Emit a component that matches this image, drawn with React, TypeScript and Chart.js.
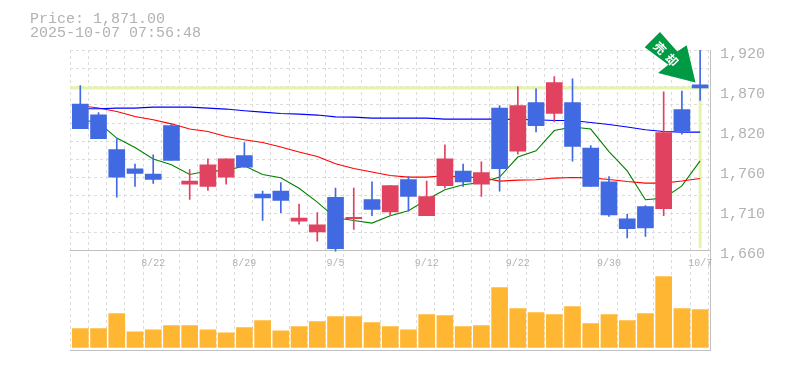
import React, { useEffect, useRef } from "react";
import { Chart, registerables } from "chart.js";

Chart.register(...registerables);

const dates = ["8/18","8/19","8/20","8/21","8/22","8/25","8/26","8/27","8/28","8/29","9/1","9/2","9/3","9/4","9/5","9/8","9/9","9/10","9/11","9/12","9/16","9/17","9/18","9/19","9/22","9/24","9/25","9/26","9/29","9/30","10/1","10/2","10/3","10/6","10/7"];
const labelledIndexes = [4, 9, 14, 19, 24, 29, 34];
const highs = [1874,1839,1805,1772,1784,1824,1765,1779,1779,1800,1737,1748,1720,1709,1741,1741,1749,1744,1756,1750,1797,1772,1775,1848,1873,1870,1886,1883,1796,1756,1707,1718,1866,1867,1920];
const bodyTops = [1850,1836,1791,1766,1759,1822,1750,1771,1779,1783,1733,1737,1702,1693,1729,1703,1726,1744,1752,1730,1779,1763,1761,1845,1848,1852,1878,1852,1793,1749,1701,1717,1813,1843,1875];
const bodyBottoms = [1818,1805,1755,1760,1752,1777,1746,1743,1755,1768,1728,1725,1698,1684,1662,1701,1713,1710,1730,1705,1744,1749,1746,1766,1789,1822,1838,1795,1743,1706,1688,1689,1714,1815,1871];
const lows = [1818,1805,1729,1743,1747,1777,1726,1738,1746,1768,1699,1709,1694,1672,1659,1687,1705,1705,1711,1705,1741,1743,1730,1737,1785,1814,1827,1776,1743,1704,1676,1678,1705,1811,1855];
const rising = [0,0,0,0,0,0,1,1,1,0,0,0,1,1,0,1,0,1,0,1,1,0,1,0,1,0,1,0,0,0,0,0,1,0,0];
const maLong = [1844,1844,1844.9,1844.9,1846.2,1846.2,1846.2,1844.9,1843.6,1841.4,1839.7,1837.8,1837.1,1835.8,1833.5,1833.2,1831.9,1831.9,1831.9,1831.9,1830.6,1830.6,1830.6,1830.6,1830,1829.7,1828.7,1828.7,1826.1,1823.5,1820.2,1816.7,1814.4,1813.7,1813.7];
const maMid = [1847.9,1844.9,1840.4,1834,1829.7,1824.4,1817.6,1814.4,1808,1803.7,1800.1,1794.2,1787.7,1782,1772.5,1766.3,1761.7,1757.2,1755.2,1755.2,1756.9,1755.2,1754.6,1750,1751.3,1751.7,1753.9,1754.6,1754.2,1752,1749.4,1747.4,1747.4,1750,1753.3];
const maShort = [1829.7,1826.1,1805.9,1793.6,1778.6,1771.2,1758.5,1763,1763.7,1769.8,1758.5,1754.3,1740.6,1722.7,1702.2,1698.7,1695.4,1704.9,1711.4,1725.7,1738.7,1745.2,1748.2,1755.2,1781.2,1789.3,1815.7,1820.2,1817.6,1788.4,1763.3,1725.7,1727.8,1743.8,1776.3];
const volumes = [56,56,101,47,53,65,65,53,44,59,80,50,62,77,92,92,74,62,53,98,95,62,65,179,116,104,98,122,71,98,80,101,212,116,113];
const priceTickValues = [1660,1712,1764,1816,1868,1920];
const priceTickLabels = ["1,660","1,710","1,760","1,820","1,870","1,920"];
const gridPriceValues = [1530.4,1660,1683.6,1707.3,1730.9,1754.5,1778.2,1801.8,1825.5,1849.1,1872.7,1896.4,1920];
const headerLines = ["Price: 1,871.00", "2025-10-07 07:56:48"];
const lastPrice = 1871;
const lastIndex = 34;
const signalText = ["売", "却"];

const BLUE = "#4169e1";
const RED = "#e0425f";
const AXIS = "#c0c0c0";
const TEXT = "#b2b2b2";
const GRID = "#dcdcdc";
const LIME = "#e4f5a8";
const MONO = "'Liberation Mono', monospace";

const xs = dates.map((_, i) => i);
const candleColors = rising.map((r) => (r ? RED : BLUE));
const gridX = [...dates.map((_, i) => i - 0.55), 34.45, 34.55];

const overlay = {
  id: "overlay",
  beforeDatasetsDraw(chart: any) {
    const { ctx, chartArea, scales } = chart;
    const y = scales.y.getPixelForValue(lastPrice);
    const x = scales.x.getPixelForValue(lastIndex);
    ctx.save();
    ctx.fillStyle = LIME;
    ctx.fillRect(chartArea.left, y - 1.5, chartArea.right - chartArea.left - 2, 3);
    ctx.fillRect(x - 1.5, y, 3, scales.y.getPixelForValue(1663) - y);
    ctx.restore();
  },
  afterDraw(chart: any) {
    const { ctx } = chart;
    ctx.save();
    ctx.fillStyle = TEXT;
    ctx.font = `15px ${MONO}`;
    ctx.textAlign = "left";
    ctx.textBaseline = "alphabetic";
    ctx.fillText(headerLines[0], 30, 23);
    ctx.fillText(headerLines[1], 30, 37);
    ctx.fillStyle = "#009944";
    ctx.beginPath();
    ctx.moveTo(660, 32);
    ctx.lineTo(644.7, 47.3);
    ctx.lineTo(668.3, 64.7);
    ctx.lineTo(658, 73);
    ctx.lineTo(695.5, 82.5);
    ctx.lineTo(686.7, 45.3);
    ctx.lineTo(677.3, 51.5);
    ctx.closePath();
    ctx.fill();
    ctx.fillStyle = "#ffffff";
    ctx.font = "bold 12px 'Noto Sans CJK JP'";
    ctx.textAlign = "center";
    ctx.textBaseline = "middle";
    [[660, 48], [672, 60]].forEach(([gx, gy], i) => {
      ctx.save();
      ctx.translate(gx, gy);
      ctx.rotate(Math.PI / 4);
      ctx.fillText(signalText[i], 0, 0);
      ctx.restore();
    });
    ctx.restore();
  },
};

export default function App() {
  const ref = useRef<HTMLCanvasElement>(null);
  useEffect(() => {
    const maLine = (label: string, data: number[], color: string) => ({
      type: "line" as const,
      label,
      data: xs.map((x, i) => ({ x, y: data[i] })),
      xAxisID: "x",
      yAxisID: "y",
      borderColor: color,
      borderWidth: 1.1,
      pointRadius: 0,
      tension: 0,
      order: 3,
    });
    const chart = new Chart(ref.current!, {
      type: "bar",
      data: {
        datasets: [
          {
            label: "Volume",
            data: xs.map((x, i) => ({ x, y: volumes[i] })),
            xAxisID: "x",
            yAxisID: "v",
            backgroundColor: "#ffb733",
            barThickness: 16,
            grouped: false,
            order: 4,
          },
          maLine("Long MA", maLong, "#0000ff"),
          maLine("Mid MA", maMid, "#ff0000"),
          maLine("Short MA", maShort, "#008000"),
          {
            label: "Wick",
            data: xs.map((x, i) => ({ x, y: [lows[i], highs[i]] })),
            xAxisID: "x",
            yAxisID: "y",
            backgroundColor: candleColors,
            barThickness: 1,
            grouped: false,
            order: 2,
          },
          {
            label: "Body",
            data: xs.map((x, i) => ({ x, y: [bodyBottoms[i], bodyTops[i]] })),
            xAxisID: "x",
            yAxisID: "y",
            backgroundColor: candleColors,
            barThickness: 16,
            grouped: false,
            order: 1,
          },
        ] as any,
      },
      options: {
        responsive: false,
        animation: false,
        events: [],
        layout: { autoPadding: false, padding: { left: 70, top: 50, bottom: 20, right: 0 } },
        plugins: { legend: { display: false }, tooltip: { enabled: false }, title: { display: false } },
        scales: {
          x: {
            type: "linear",
            offset: false,
            position: { y: 1660 } as any,
            min: -0.565,
            max: 34.569,
            grid: { display: false, offset: false, drawTicks: false },
            border: { display: false },
            afterBuildTicks: (s: any) => {
              s.ticks = labelledIndexes.map((value) => ({ value }));
            },
            ticks: {
              autoSkip: false,
              maxRotation: 0,
              minRotation: 0,
              padding: 7,
              color: TEXT,
              font: { family: MONO, size: 10 },
              callback: (v: any) => dates[v as number] ?? "",
            },
          },
          xg: {
            type: "linear",
            axis: "x",
            offset: false,
            position: "bottom",
            min: -0.565,
            max: 34.569,
            afterBuildTicks: (s: any) => {
              s.ticks = gridX.map((value) => ({ value }));
            },
            afterFit: (s: any) => {
              s.height = 0;
            },
            ticks: { display: false },
            grid: {
              offset: false,
              drawTicks: false,
              lineWidth: 1,
              color: (c: any) => (c.tick && c.tick.value === 34.55 ? AXIS : GRID),
            },
            border: {
              display: false,
              dash: (c: any) => (c.tick && c.tick.value === 34.55 ? [] : [3, 3]),
            },
          } as any,
          yg: {
            type: "linear",
            axis: "y",
            position: "right",
            min: 1530.4,
            max: 1920.4,
            afterBuildTicks: (s: any) => {
              s.ticks = gridPriceValues.map((value) => ({ value }));
            },
            afterFit: (s: any) => {
              s.width = 0;
            },
            ticks: { display: false },
            grid: {
              drawTicks: false,
              lineWidth: 1,
              color: (c: any) => (c.tick && c.tick.value <= 1660 ? AXIS : GRID),
            },
            border: {
              display: false,
              dash: (c: any) => (c.tick && c.tick.value <= 1660 ? [] : [3, 3]),
            },
          } as any,
          y: {
            type: "linear",
            position: "right",
            min: 1530.4,
            max: 1920.4,
            afterBuildTicks: (s: any) => {
              s.ticks = priceTickValues.map((value) => ({ value }));
            },
            afterFit: (s: any) => {
              s.width = 74.5;
            },
            grid: { display: false, drawTicks: false },
            border: { display: false },
            ticks: {
              padding: 9.5,
              labelOffset: 4,
              color: TEXT,
              font: { family: MONO, size: 15 },
              callback: (_v: any, i: number) => priceTickLabels[i],
            },
          },
          v: {
            type: "linear",
            display: false,
            min: -7.8,
            max: 891,
          },
        },
      },
      plugins: [overlay],
    } as any);
    return () => chart.destroy();
  }, []);
  return (
    <div style={{ position: "fixed", left: 0, top: 0, width: 785, height: 370, background: "#fff" }}>
      <canvas ref={ref} width={785} height={370} style={{ display: "block" }} />
    </div>
  );
}
